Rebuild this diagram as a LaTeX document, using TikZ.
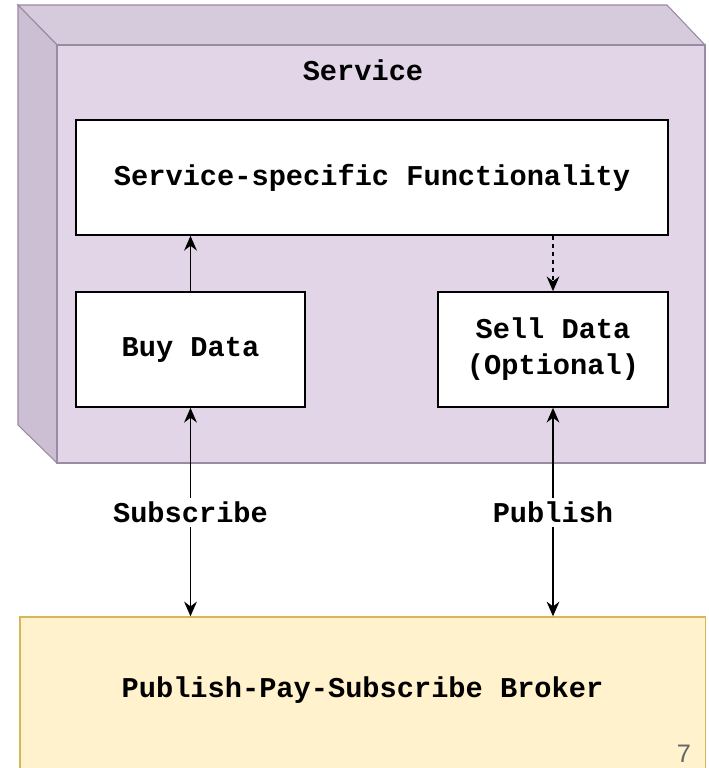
\documentclass[tikz,border=0pt]{standalone}
\usepackage{fontspec}
\setmonofont{Liberation Mono}
\setsansfont{Liberation Sans}
\usetikzlibrary{arrows.meta}
\definecolor{svcfront}{HTML}{E1D5E7}
\definecolor{svctop}{HTML}{D6CADD}
\definecolor{svcside}{HTML}{CCBFD4}
\definecolor{svcline}{HTML}{9A8AA3}
\definecolor{brokerfill}{HTML}{FFF2CC}
\definecolor{brokerline}{HTML}{D6B656}
\tikzset{
  block/.style={draw=black,line width=1.5pt,fill=white,align=center,
    font=\ttfamily\bfseries\fontsize{21.5}{27}\selectfont},
  lbl/.style={fill=white,inner sep=3pt,font=\ttfamily\bfseries\fontsize{21.5}{27}\selectfont},
  conn/.style={line width=1.4pt,-{Stealth[length=11pt,width=9.5pt]}}
}
\begin{document}
\begin{tikzpicture}[x=0.75pt,y=-0.75pt]
\useasboundingbox (0,0) rectangle (709,768);
\clip (0,0) rectangle (709,768);
\fill[white] (0,0) rectangle (709,768);
% service cube
\filldraw[fill=svctop,draw=svcline,line width=0.8pt] (18,5) -- (667,5) -- (705,45) -- (57,45) -- cycle;
\filldraw[fill=svcside,draw=svcline,line width=0.8pt] (18,5) -- (57,45) -- (57,463) -- (18,425) -- cycle;
\filldraw[fill=svcfront,draw=svcline,line width=0.8pt] (57,45) rectangle (705,463);
\node[font=\ttfamily\bfseries\fontsize{21.5}{27}\selectfont] (service) at (363,70) {Service};
% boxes
\node[block,minimum width=444pt,minimum height=86pt] (func) at (372,177.5) {Service-specific Functionality};
\node[block,minimum width=172pt,minimum height=86pt] (buy) at (190.5,349.5) {Buy Data};
\node[block,minimum width=172.5pt,minimum height=86pt] (sell) at (553,349.5) {Sell Data\\(Optional)};
\node[block,draw=brokerline,fill=brokerfill,line width=1pt,minimum width=514pt,minimum height=135pt] (broker) at (362.5,707) {};
\node[font=\ttfamily\bfseries\fontsize{21.5}{27}\selectfont] (brokertxt) at (362.5,690) {Publish-Pay-Subscribe Broker};
% connectors
\draw[conn] (buy.north) -- (buy.north |- func.south);
\draw[conn,dashed] (sell.north |- func.south) -- (sell.north);
\draw[conn,{Stealth[length=11pt,width=9.5pt]}-{Stealth[length=11pt,width=9.5pt]}] (buy.south) -- node[lbl] (sub) {Subscribe} (buy.south |- broker.north);
\draw[conn,{Stealth[length=11pt,width=9.5pt]}-{Stealth[length=11pt,width=9.5pt]}] (sell.south) -- node[lbl] (pub) {Publish} (sell.south |- broker.north);
% page number
\node[text=gray!80!black,font=\sffamily\fontsize{19}{22}\selectfont] (pageno) at (684,754) {7};
\end{tikzpicture}
\end{document}
